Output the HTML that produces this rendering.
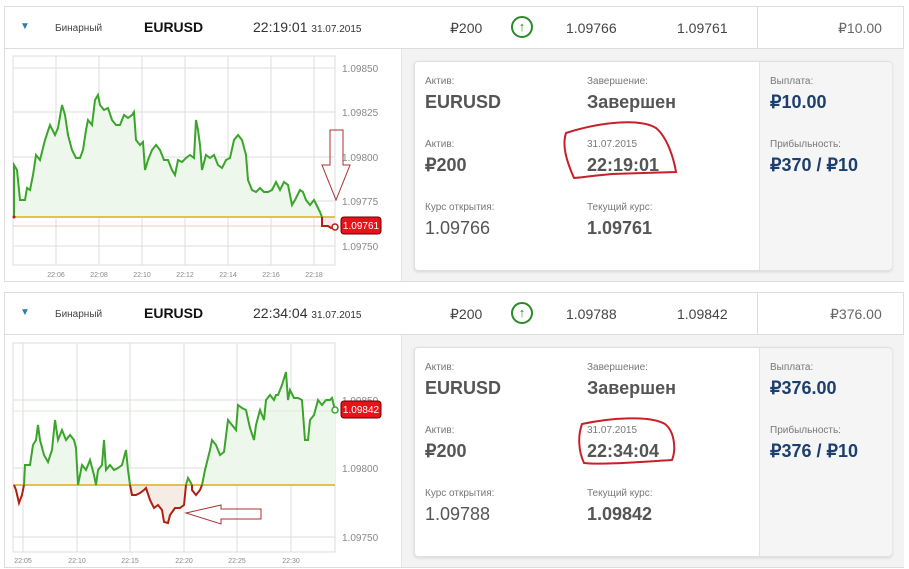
<!DOCTYPE html>
<html><head><meta charset="utf-8"><style>
body{margin:0;width:909px;height:569px;background:#fff;font-family:"Liberation Sans",sans-serif;position:relative;overflow:hidden}
.a{position:absolute;white-space:nowrap}
.panel{position:absolute;left:4px;width:898px;height:274px;border:1px solid #ddd;background:#fff}
.hdr{position:absolute;left:0;top:0;width:898px;height:41px;border-bottom:1px solid #ddd}
.rb{position:absolute;left:396px;top:42px;width:502px;height:232px;background:#f3f3f3;border-left:1px solid #e3e3e3}
.card{position:absolute;left:12px;top:12px;width:476px;height:208px;background:#fff;border:1px solid #e0e0e0;border-radius:4px;box-shadow:0 1px 3px rgba(0,0,0,.12)}
.cr{position:absolute;left:344px;top:0;width:132px;height:208px;background:#f5f5f5;border-left:1px solid #e3e3e3;border-radius:0 4px 4px 0}
.l{font-size:10px;color:#777}
.v{font-size:18px;font-weight:bold;color:#555}
.n{font-size:18px;font-weight:bold;color:#1d3f6e}
.h{font-size:14px;color:#444}
</style></head><body>

<!-- PANEL 1 -->
<div class="panel" style="top:6px">
 <div class="hdr">
  <div class="a" style="left:15px;top:14px;font-size:10px;color:#2a7fb0">▼</div>
  <div class="a" style="left:50px;top:16px;font-size:10px;color:#444">Бинарный</div>
  <div class="a" style="left:139px;top:12px;font-size:14px;font-weight:bold;color:#111">EURUSD</div>
  <div class="a" style="left:248px;top:12px;font-size:14px;color:#333">22:19:01 <span style="font-size:10px">31.07.2015</span></div>
  <div class="a h" style="left:445px;top:13px">₽200</div>
  <div class="a" style="left:506px;top:9px;width:22px;height:22px;border:2px solid #2a8a2a;border-radius:50%;box-sizing:border-box;text-align:center;font-size:13px;line-height:18px;color:#2a8a2a;font-weight:bold">↑</div>
  <div class="a h" style="left:561px;top:13px">1.09766</div>
  <div class="a h" style="left:672px;top:13px">1.09761</div>
  <div style="position:absolute;left:752px;top:0;width:1px;height:41px;background:#ddd"></div>
  <div class="a h" style="left:833px;top:13px;color:#666">₽10.00</div>
 </div>
 <div class="rb"><div class="card">
  <div class="a l" style="left:10px;top:14px">Актив:</div><div class="a v" style="left:10px;top:30px">EURUSD</div>
  <div class="a l" style="left:10px;top:77px">Актив:</div><div class="a v" style="left:10px;top:93px">₽200</div>
  <div class="a l" style="left:10px;top:140px">Курс открытия:</div><div class="a v" style="left:10px;top:156px;font-weight:normal">1.09766</div>
  <div class="a l" style="left:172px;top:14px">Завершение:</div><div class="a v" style="left:172px;top:30px">Завершен</div>
  <div class="a l" style="left:172px;top:77px">31.07.2015</div><div class="a v" style="left:172px;top:93px">22:19:01</div>
  <div class="a l" style="left:172px;top:140px">Текущий курс:</div><div class="a v" style="left:172px;top:156px">1.09761</div>
  <div class="cr">
   <div class="a l" style="left:10px;top:14px">Выплата:</div><div class="a n" style="left:10px;top:30px">₽10.00</div>
   <div class="a l" style="left:10px;top:77px">Прибыльность:</div><div class="a n" style="left:10px;top:93px">₽370 / ₽10</div>
  </div>
 </div></div>
</div>

<!-- PANEL 2 -->
<div class="panel" style="top:292px">
 <div class="hdr">
  <div class="a" style="left:15px;top:14px;font-size:10px;color:#2a7fb0">▼</div>
  <div class="a" style="left:50px;top:16px;font-size:10px;color:#444">Бинарный</div>
  <div class="a" style="left:139px;top:12px;font-size:14px;font-weight:bold;color:#111">EURUSD</div>
  <div class="a" style="left:248px;top:12px;font-size:14px;color:#333">22:34:04 <span style="font-size:10px">31.07.2015</span></div>
  <div class="a h" style="left:445px;top:13px">₽200</div>
  <div class="a" style="left:506px;top:9px;width:22px;height:22px;border:2px solid #2a8a2a;border-radius:50%;box-sizing:border-box;text-align:center;font-size:13px;line-height:18px;color:#2a8a2a;font-weight:bold">↑</div>
  <div class="a h" style="left:561px;top:13px">1.09788</div>
  <div class="a h" style="left:672px;top:13px">1.09842</div>
  <div style="position:absolute;left:752px;top:0;width:1px;height:41px;background:#ddd"></div>
  <div class="a h" style="left:825px;top:13px;color:#666">₽376.00</div>
 </div>
 <div class="rb"><div class="card">
  <div class="a l" style="left:10px;top:14px">Актив:</div><div class="a v" style="left:10px;top:30px">EURUSD</div>
  <div class="a l" style="left:10px;top:77px">Актив:</div><div class="a v" style="left:10px;top:93px">₽200</div>
  <div class="a l" style="left:10px;top:140px">Курс открытия:</div><div class="a v" style="left:10px;top:156px;font-weight:normal">1.09788</div>
  <div class="a l" style="left:172px;top:14px">Завершение:</div><div class="a v" style="left:172px;top:30px">Завершен</div>
  <div class="a l" style="left:172px;top:77px">31.07.2015</div><div class="a v" style="left:172px;top:93px">22:34:04</div>
  <div class="a l" style="left:172px;top:140px">Текущий курс:</div><div class="a v" style="left:172px;top:156px">1.09842</div>
  <div class="cr">
   <div class="a l" style="left:10px;top:14px">Выплата:</div><div class="a n" style="left:10px;top:30px">₽376.00</div>
   <div class="a l" style="left:10px;top:77px">Прибыльность:</div><div class="a n" style="left:10px;top:93px">₽376 / ₽10</div>
  </div>
 </div></div>
</div>

<svg width="909" height="569" style="position:absolute;left:0;top:0" font-family="Liberation Sans, sans-serif">
 <!-- chart 1 -->
 <rect x="13" y="56" width="322" height="209" fill="#fff" stroke="#ddd"/>
 <g stroke="#ddd" stroke-width="1">
  <line x1="56" y1="56" x2="56" y2="265"/><line x1="99" y1="56" x2="99" y2="265"/><line x1="142" y1="56" x2="142" y2="265"/><line x1="185" y1="56" x2="185" y2="265"/><line x1="228" y1="56" x2="228" y2="265"/><line x1="271" y1="56" x2="271" y2="265"/><line x1="314" y1="56" x2="314" y2="265"/>
  <line x1="13" y1="68" x2="335" y2="68"/><line x1="13" y1="112" x2="335" y2="112"/><line x1="13" y1="157" x2="335" y2="157"/><line x1="13" y1="201" x2="335" y2="201"/><line x1="13" y1="246" x2="335" y2="246"/>
 </g>
 <g font-size="10" fill="#888">
  <text x="342" y="72">1.09850</text><text x="342" y="116">1.09825</text><text x="342" y="161">1.09800</text><text x="342" y="205">1.09775</text><text x="342" y="250">1.09750</text>
 </g>
 <g font-size="7" fill="#888" text-anchor="middle">
  <text x="56" y="277">22:06</text><text x="99" y="277">22:08</text><text x="142" y="277">22:10</text><text x="185" y="277">22:12</text><text x="228" y="277">22:14</text><text x="271" y="277">22:16</text><text x="314" y="277">22:18</text>
 </g>
 <polygon fill="#eef7ec" points="14,217 14,165 17,170 20,200 25,200 27,188 30,190 33,175 36,155 40,160 45,140 50,125 55,135 58,128 62,105 65,115 68,135 72,150 76,158 80,158 83,150 86,130 88,120 92,125 95,100 98,95 100,105 104,110 108,108 112,120 116,125 120,125 124,115 128,118 132,115 134,112 136,140 140,145 143,142 145,170 148,160 152,150 156,145 160,150 164,160 168,160 172,170 175,175 178,160 182,162 186,158 190,155 194,158 196,120 198,130 200,145 202,170 206,155 210,158 214,155 218,165 222,168 226,160 230,158 234,140 238,135 242,140 246,155 248,180 252,190 256,192 260,188 264,192 268,192 272,190 276,182 280,190 284,182 288,185 290,195 292,205 295,200 300,190 303,192 306,200 310,205 314,200 318,208 320,212 322,217"/>
 <rect x="322" y="217" width="13" height="10" fill="#f6ece8"/>
 <line x1="13" y1="217" x2="335" y2="217" stroke="#e6c04a" stroke-width="2"/>
 <line x1="13" y1="226" x2="335" y2="226" stroke="#f0c8c8" stroke-width="1"/>
 <polyline fill="none" stroke="#3aa52a" stroke-width="2" points="14,217 14,165 17,170 20,200 25,200 27,188 30,190 33,175 36,155 40,160 45,140 50,125 55,135 58,128 62,105 65,115 68,135 72,150 76,158 80,158 83,150 86,130 88,120 92,125 95,100 98,95 100,105 104,110 108,108 112,120 116,125 120,125 124,115 128,118 132,115 134,112 136,140 140,145 143,142 145,170 148,160 152,150 156,145 160,150 164,160 168,160 172,170 175,175 178,160 182,162 186,158 190,155 194,158 196,120 198,130 200,145 202,170 206,155 210,158 214,155 218,165 222,168 226,160 230,158 234,140 238,135 242,140 246,155 248,180 252,190 256,192 260,188 264,192 268,192 272,190 276,182 280,190 284,182 288,185 290,195 292,205 295,200 300,190 303,192 306,200 310,205 314,200 318,208 320,212 322,217"/>
 <polyline fill="none" stroke="#b02010" stroke-width="2" points="322,217 322,226 328,226 331,228 335,226"/>
 <circle cx="335" cy="227" r="3" fill="#fff" stroke="#b02010" stroke-width="1.5"/>
 <circle cx="14" cy="217" r="1.5" fill="#b02010"/>
 <rect x="341" y="217" width="40" height="17" rx="3" fill="#e8131a" stroke="#600" />
 <text x="361" y="229" font-size="10" fill="#fff" text-anchor="middle">1.09761</text>
 <polygon points="330,130 343,130 343,165 350,165 336,200 322,165 330,165" fill="none" stroke="#a83030" stroke-width="1"/>
 <path d="M566,133 C600,122 640,118 656,128 C668,138 674,160 676,172 L612,174 C590,176 578,178 574,178 C566,160 562,145 566,133 Z" fill="none" stroke="#c8202a" stroke-width="2"/>

 <!-- chart 2 -->
 <rect x="13" y="343" width="322" height="209" fill="#fff" stroke="#ddd"/>
 <g stroke="#ddd" stroke-width="1">
  <line x1="23" y1="343" x2="23" y2="552"/><line x1="77" y1="343" x2="77" y2="552"/><line x1="130" y1="343" x2="130" y2="552"/><line x1="184" y1="343" x2="184" y2="552"/><line x1="237" y1="343" x2="237" y2="552"/><line x1="291" y1="343" x2="291" y2="552"/>
  <line x1="13" y1="400" x2="335" y2="400"/><line x1="13" y1="468" x2="335" y2="468"/><line x1="13" y1="537" x2="335" y2="537"/>
 </g>
 <g font-size="10" fill="#888">
  <text x="342" y="404">1.09850</text><text x="342" y="472">1.09800</text><text x="342" y="541">1.09750</text>
 </g>
 <g font-size="7" fill="#888" text-anchor="middle">
  <text x="23" y="563">22:05</text><text x="77" y="563">22:10</text><text x="130" y="563">22:15</text><text x="184" y="563">22:20</text><text x="237" y="563">22:25</text><text x="291" y="563">22:30</text>
 </g>
 <polygon fill="#eef7ec" points="24,485 25,465 30,465 33,445 36,440 38,425 40,440 44,455 48,462 52,450 55,420 58,440 62,430 66,440 70,435 74,440 76,448 78,485 82,465 86,470 90,460 94,475 96,485 98,470 102,465 104,440 106,470 110,465 114,470 118,468 122,465 126,450 128,470 130,485 202,485 205,470 210,450 212,440 216,445 220,455 224,452 228,420 232,425 236,430 238,405 242,408 246,410 250,428 254,440 256,425 260,410 264,420 266,400 270,395 274,400 276,395 278,395 282,385 286,372 288,400 290,390 294,398 298,398 302,400 305,440 308,440 310,420 314,415 318,400 322,405 326,400 330,400 332,398 335,410 335,485"/>
 <polygon fill="#f5ece6" points="130,485 132,495 136,495 140,493 144,490 146,488 150,500 154,508 158,505 162,510 164,522 168,523 170,515 175,508 180,508 184,505 186,485"/>
 <line x1="13" y1="411" x2="335" y2="411" stroke="#dcecd8" stroke-width="1"/>
 <line x1="13" y1="485" x2="335" y2="485" stroke="#e6c04a" stroke-width="2"/>
 <polyline fill="none" stroke="#b02010" stroke-width="2" points="14,485 16,490 19,503 22,495 24,485"/>
 <polyline fill="none" stroke="#3aa52a" stroke-width="2" points="24,485 25,465 30,465 33,445 36,440 38,425 40,440 44,455 48,462 52,450 55,420 58,440 62,430 66,440 70,435 74,440 76,448 78,485 82,465 86,470 90,460 94,475 96,485 98,470 102,465 104,440 106,470 110,465 114,470 118,468 122,465 126,450 128,470 130,485"/>
 <polyline fill="none" stroke="#b02010" stroke-width="2" points="130,485 132,495 136,495 140,493 144,490 146,488 150,500 154,508 158,505 162,510 164,522 168,523 170,515 175,508 180,508 184,505 186,485"/>
 <polyline fill="none" stroke="#3aa52a" stroke-width="2" points="186,485 188,478 192,485"/>
 <polyline fill="none" stroke="#b02010" stroke-width="2" points="192,485 192,490 196,495 200,490 202,485"/>
 <polyline fill="none" stroke="#3aa52a" stroke-width="2" points="202,485 205,470 210,450 212,440 216,445 220,455 224,452 228,420 232,425 236,430 238,405 242,408 246,410 250,428 254,440 256,425 260,410 264,420 266,400 270,395 274,400 276,395 278,395 282,385 286,372 288,400 290,390 294,398 298,398 302,400 305,440 308,440 310,420 314,415 318,400 322,405 326,400 330,400 332,398 335,410"/>
 <circle cx="335" cy="410" r="3" fill="#fff" stroke="#3aa52a" stroke-width="1.5"/>
 <rect x="341" y="401" width="40" height="17" rx="3" fill="#e8131a" stroke="#600"/>
 <text x="361" y="413" font-size="10" fill="#fff" text-anchor="middle">1.09842</text>
 <polygon points="186,513 221,505 221,509 261,509 261,519 221,519 221,524" fill="none" stroke="#a83030" stroke-width="1"/>
 <path d="M582,424 C610,418 650,415 665,424 C675,432 676,450 672,460 C640,462 600,465 584,463 C578,450 578,435 582,424 Z" fill="none" stroke="#c8202a" stroke-width="2"/>
</svg>
</body></html>
